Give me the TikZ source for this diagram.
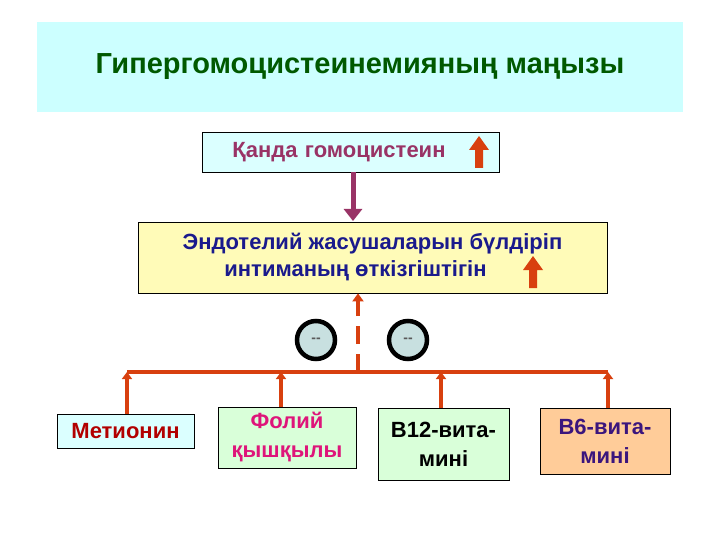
\documentclass[tikz,border=0pt]{standalone}
\usepackage{fontspec}
\setmainfont{Liberation Sans}
\usetikzlibrary{arrows.meta}
\definecolor{redor}{HTML}{D8400F}
\definecolor{plum}{HTML}{993366}
\definecolor{navy}{HTML}{1A1A8C}
\definecolor{titlebg}{HTML}{CCFFFF}
\definecolor{circfill}{HTML}{C8E0E0}
\tikzset{
 box/.style={draw=black, line width=0.8pt, align=center, font=\bfseries\fontsize{22}{29}\selectfont},
 conn/.style={draw=redor, line width=3.5pt},
 uptip/.style={-{Triangle[length=7pt,width=10pt]}},
 circ/.style={circle, draw=black, line width=4.5pt, fill=circfill, minimum size=38pt, font=\bfseries\fontsize{14}{14}\selectfont, text=gray!70!black}
}
\begin{document}
\begin{tikzpicture}[x=1pt,y=-1pt]
\useasboundingbox (0,0) rectangle (720,540);
\fill[white] (0,0) rectangle (720,540);
\node[fill=titlebg, minimum width=646pt, minimum height=90pt, font=\bfseries\fontsize{29}{33}\selectfont, text=green!35!black] (title) at (360,67) {Гипергомоцистеинемияның маңызы};
\node[box, fill=titlebg!70, minimum width=296pt, minimum height=40pt, text=plum, text width=290pt] (b1) at (351,152) {Қанда гомоцистеин\hspace*{24pt}};
\node[box, fill=yellow!28, minimum width=469pt, minimum height=71pt, text=navy, font=\bfseries\fontsize{22}{27}\selectfont] (b2) at (372.5,257.5) {Эндотелий жасушаларын бүлдіріп\\интиманың өткізгіштігін\hspace*{34pt}};
\draw[plum, line width=5pt, -{Triangle[length=12pt,width=18pt]}] (b1.south -| 353,0) -- (353,221);
% block arrows
\fill[redor] (475,168) -- (475,150) -- (469,150) -- (479,136) -- (489,150) -- (483,150) -- (483,168) -- cycle;
\fill[redor] (529,288) -- (529,270) -- (523,270) -- (533,256) -- (543,270) -- (537,270) -- (537,288) -- cycle;
% circles
\node[circ] (c1) at (316,340) {-{}-};
\node[circ] (c2) at (408,340) {-{}-};
% bottom boxes
\node[box, fill=titlebg!70, minimum width=137pt, minimum height=34pt, text=red!70!black] (m) at (125.5,431) {Метионин};
\node[box, fill=green!15, minimum width=138pt, minimum height=61pt, text=magenta!70!purple] (f) at (287,437.5) {Фолий\\қышқылы};
\node[box, fill=green!15, minimum width=131pt, minimum height=72pt, text=black] (b12) at (443.5,444) {B12-вита-\\мині};
\node[box, fill=orange!40, minimum width=130pt, minimum height=66pt, text=navy!80!purple] (b6) at (605,441) {B6-вита-\\мині};
% connectors
\coordinate (jl) at (127,372);
\coordinate (jr) at (608,372);
\coordinate (jm) at (358,372);
\draw[conn] (jl) -- (jr);
\draw[conn, uptip] (m.north -| jl) -- (jl);
\draw[conn, uptip] (f.north -| 281,0) -- (281,372);
\draw[conn, uptip] (b12.north -| 441,0) -- (441,372);
\draw[conn, uptip] (b6.north -| jr) -- (jr);
\draw[conn, dash pattern=on 18pt off 10pt, line width=4pt] (jm) -- (358,304);
\draw[redor, -{Triangle[length=8pt,width=11pt]}, line width=3.5pt] (358,305) -- (b2.south -| jm);
\end{tikzpicture}
\end{document}
